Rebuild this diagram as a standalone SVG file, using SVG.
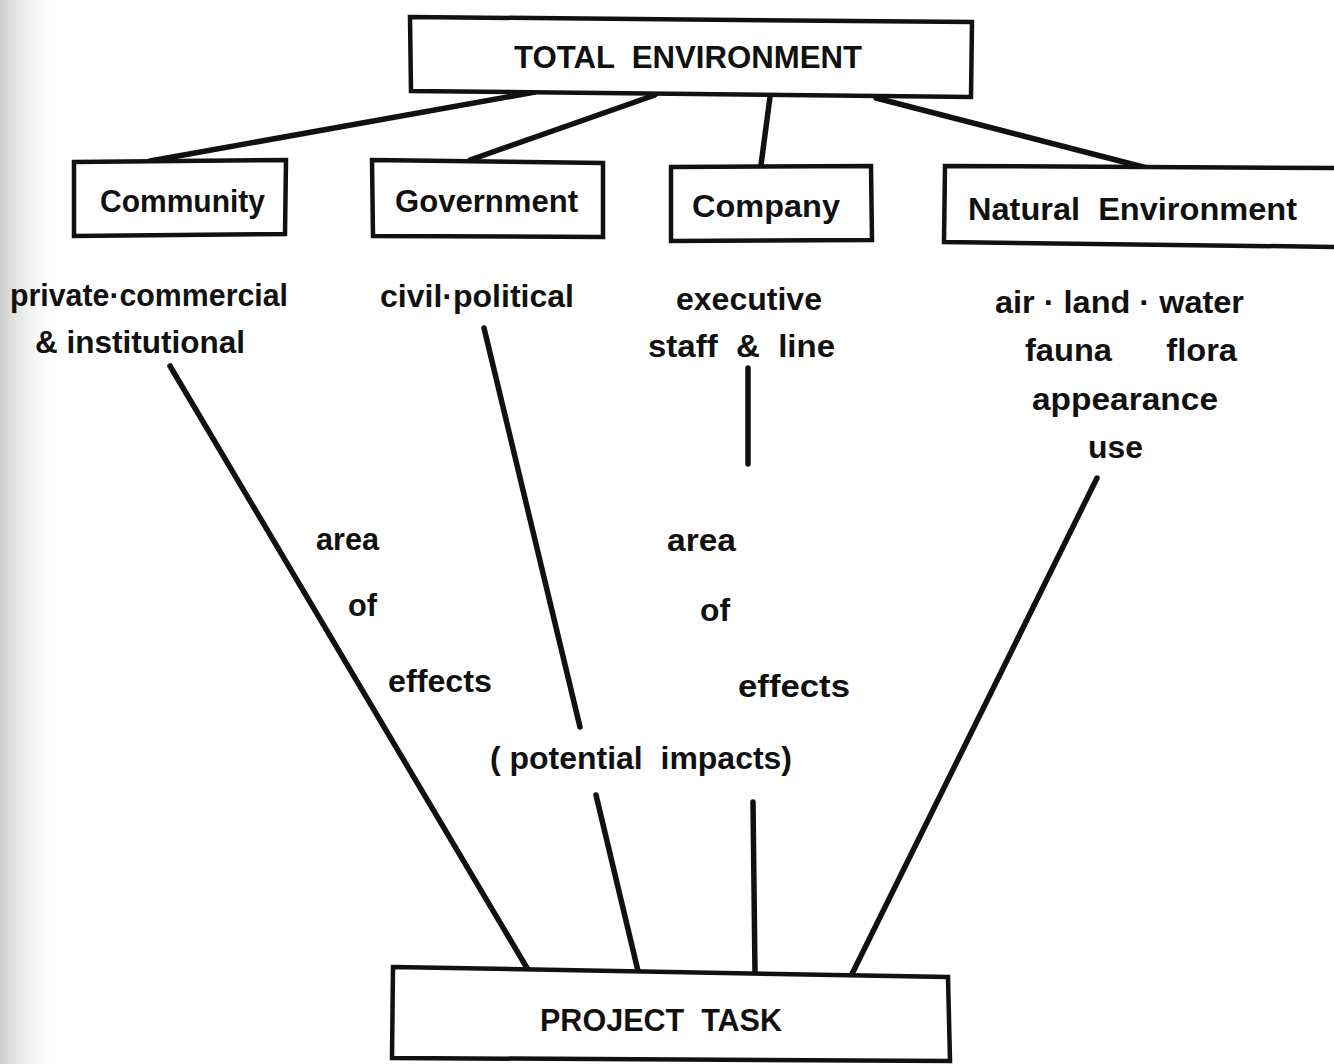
<svg xmlns="http://www.w3.org/2000/svg" width="1334" height="1064" viewBox="0 0 1334 1064">
  <defs>
    <linearGradient id="edgeShade" x1="0" y1="0" x2="1" y2="0">
      <stop offset="0" stop-color="#c4c4c4" stop-opacity="0.85"/>
      <stop offset="0.45" stop-color="#dcdcdc" stop-opacity="0.45"/>
      <stop offset="1" stop-color="#ffffff" stop-opacity="0"/>
    </linearGradient>
    <style>
      .box { fill: #ffffff; stroke: #111111; stroke-width: 4.5; stroke-linejoin: miter; }
      .link { stroke: #111111; stroke-width: 5.5; stroke-linecap: round; fill: none; }
      .lbl { font-family: "Liberation Sans Narrow", "Liberation Sans", Arial, sans-serif; font-weight: bold; fill: #111111; white-space: pre; }
      .title { font-size: 32px; }
      .name { font-size: 32px; }
      .note { font-size: 31px; }
    </style>
  </defs>

  <rect x="0" y="0" width="1334" height="1064" fill="#ffffff"/>
  <!-- darker paper margin along the left edge -->
  <rect x="0" y="0" width="60" height="1064" fill="url(#edgeShade)"/>

  <!-- connectors -->
  <g id="connectors">
    <line class="link" x1="535" y1="92" x2="150" y2="161"/>
    <line class="link" x1="655" y1="95" x2="470" y2="160"/>
    <line class="link" x1="770" y1="97" x2="761" y2="165"/>
    <line class="link" x1="876" y1="98" x2="1147" y2="168"/>

    <line class="link" x1="170" y1="366" x2="527" y2="968"/>
    <line class="link" x1="484" y1="328" x2="580" y2="727"/>
    <line class="link" x1="596" y1="795" x2="638" y2="971"/>
    <line class="link" x1="748" y1="368" x2="748" y2="464"/>
    <line class="link" x1="753" y1="802" x2="755" y2="973"/>
    <line class="link" x1="1097" y1="478" x2="852" y2="974"/>
  </g>

  <g id="total-environment">
    <polygon class="box" points="410,17 972,22 971,97 411,91"/>
    <text class="lbl title" x="514" y="68" textLength="348" lengthAdjust="spacingAndGlyphs" xml:space="preserve">TOTAL  ENVIRONMENT</text>
  </g>

  <g id="community">
    <polygon class="box" points="74,162 286,160 285,234 74,236"/>
    <text class="lbl name" x="100" y="212" textLength="165" lengthAdjust="spacingAndGlyphs">Community</text>
    <text class="lbl note" x="10" y="306" textLength="278" lengthAdjust="spacingAndGlyphs">private·commercial</text>
    <text class="lbl note" x="35" y="353" textLength="210" lengthAdjust="spacingAndGlyphs">&amp; institutional</text>
  </g>

  <g id="government">
    <polygon class="box" points="372,160 603,163 603,237 373,236"/>
    <text class="lbl name" x="395" y="212" textLength="183" lengthAdjust="spacingAndGlyphs">Government</text>
    <text class="lbl note" x="380" y="307" textLength="194" lengthAdjust="spacingAndGlyphs">civil·political</text>
  </g>

  <g id="company">
    <polygon class="box" points="671,167 871,166 872,240 671,241"/>
    <text class="lbl name" x="692" y="217" textLength="148" lengthAdjust="spacingAndGlyphs">Company</text>
    <text class="lbl note" x="676" y="310" textLength="146" lengthAdjust="spacingAndGlyphs">executive</text>
    <text class="lbl note" x="648" y="357" textLength="187" lengthAdjust="spacingAndGlyphs" xml:space="preserve">staff  &amp;  line</text>
  </g>

  <g id="natural-environment">
    <polygon class="box" points="945,166 1340,168 1340,247 944,242"/>
    <text class="lbl name" x="968" y="220" textLength="329" lengthAdjust="spacingAndGlyphs" xml:space="preserve">Natural  Environment</text>
    <text class="lbl note" x="995" y="313" textLength="249" lengthAdjust="spacingAndGlyphs" xml:space="preserve">air · land · water</text>
    <text class="lbl note" x="1025" y="361" textLength="212" lengthAdjust="spacingAndGlyphs" xml:space="preserve">fauna      flora</text>
    <text class="lbl note" x="1032" y="410" textLength="186" lengthAdjust="spacingAndGlyphs">appearance</text>
    <text class="lbl note" x="1088" y="458" textLength="55" lengthAdjust="spacingAndGlyphs">use</text>
  </g>

  <g id="area-of-effects-left">
    <text class="lbl note" x="316" y="550" textLength="63" lengthAdjust="spacingAndGlyphs">area</text>
    <text class="lbl note" x="348" y="616" textLength="29" lengthAdjust="spacingAndGlyphs">of</text>
    <text class="lbl note" x="388" y="692" textLength="104" lengthAdjust="spacingAndGlyphs">effects</text>
  </g>

  <g id="area-of-effects-right">
    <text class="lbl note" x="667" y="551" textLength="69" lengthAdjust="spacingAndGlyphs">area</text>
    <text class="lbl note" x="700" y="621" textLength="30" lengthAdjust="spacingAndGlyphs">of</text>
    <text class="lbl note" x="738" y="697" textLength="112" lengthAdjust="spacingAndGlyphs">effects</text>
  </g>

  <g id="potential-impacts">
    <text class="lbl note" x="490" y="769" textLength="302" lengthAdjust="spacingAndGlyphs" xml:space="preserve">( potential  impacts)</text>
  </g>

  <g id="project-task">
    <polygon class="box" points="393,967 948,977 950,1061 392,1058"/>
    <text class="lbl title" x="540" y="1031" textLength="242" lengthAdjust="spacingAndGlyphs" xml:space="preserve">PROJECT  TASK</text>
  </g>
</svg>
